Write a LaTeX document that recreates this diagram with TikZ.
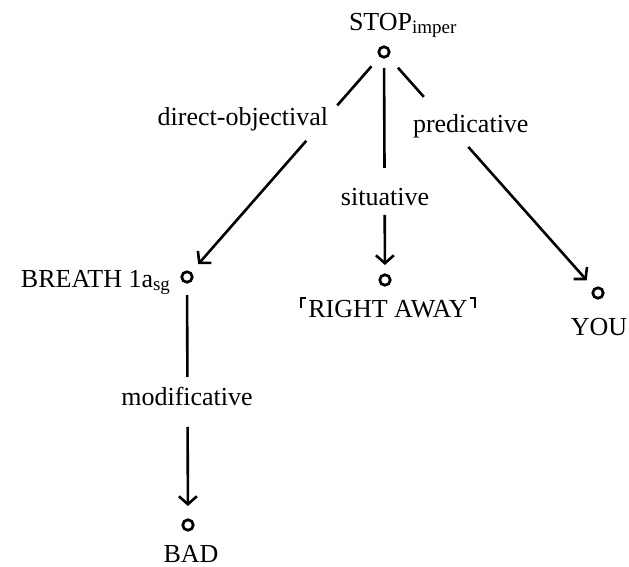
\documentclass[tikz,border=0pt]{standalone}
\usepackage{fontspec}
\setmainfont{Liberation Serif}
\usetikzlibrary{arrows.meta,calc}

\tikzset{
  every node/.style={inner sep=0pt, outer sep=0pt, font=\fontsize{26}{31}\selectfont},
  dot/.style={circle, draw, line width=2.7pt, minimum size=10.5pt},
  edge/.style={line width=2.6pt},
  arr/.style={edge, -{Straight Barb[length=8pt,width=18pt]}},
  corner/.style={line width=1.9pt}
}
\newcommand{\sub}[1]{\raisebox{-3pt}{\fontsize{19}{19}\selectfont #1}}

\begin{document}
\begin{tikzpicture}[x=1pt,y=-1pt]
\useasboundingbox (0,0) rectangle (629,567);

% word nodes
\node[anchor=base west] (stop) at (349,31) {STOP\sub{imper}};
\node[anchor=base east] (breath) at (170,287) {BREATH 1a\sub{sg}};
\node[anchor=base] (ra) at (388,317) {RIGHT AWAY};
\node[anchor=base] (you) at (599,335) {YOU};
\node[anchor=base] (bad) at (191,562) {BAD};

% relation labels
\node[anchor=base east] (ldo) at (328,126) {direct-objectival};
\node[anchor=base] (lsi) at (385,205) {situative};
\node[anchor=base west] (lpr) at (413,133) {predicative};
\node[anchor=base] (lmo) at (187,405) {modificative};

% vertices
\node[dot] (c0) at (384,52) {};
\node[dot] (c1) at (187,277) {};
\node[dot] (c2) at (385,280) {};
\node[dot] (c3) at (598,293) {};
\node[dot] (c4) at (188,525) {};

% break points where the labels interrupt the edges
\coordinate (do1) at ($(c0.center)!71pt!(c1.center)$);
\coordinate (do2) at ($(c0.center)!118pt!(c1.center)$);
\coordinate (si1) at ($(c0.center)!116pt!(c2.center)$);
\coordinate (si2) at ($(c0.center)!163pt!(c2.center)$);
\coordinate (pr1) at ($(c0.center)!60pt!(c3.center)$);
\coordinate (pr2) at ($(c0.center)!127pt!(c3.center)$);
\coordinate (mo1) at ($(c1.center)!100pt!(c4.center)$);
\coordinate (mo2) at ($(c1.center)!150pt!(c4.center)$);

% edges
\draw[edge, shorten <=19pt] (c0.center) -- (do1);
\draw[arr, shorten >=17pt] (do2) -- (c1.center);
\draw[edge, shorten <=16pt] (c0.center) -- (si1);
\draw[arr, shorten >=15pt] (si2) -- (c2.center);
\draw[edge, shorten <=21pt] (c0.center) -- (pr1);
\draw[arr, shorten >=17pt] (pr2) -- (c3.center);
\draw[edge, shorten <=18pt] (c1.center) -- (mo1);
\draw[arr, shorten >=19pt] (mo2) -- (c4.center);

% quotation corners round RIGHT AWAY
\draw[corner] ([xshift=-7pt,yshift=-8pt]ra.north west) -- ([xshift=-7pt,yshift=2pt]ra.north west) -- ([xshift=-2pt,yshift=2pt]ra.north west);
\draw[corner] ([xshift=7pt,yshift=-8pt]ra.north east) -- ([xshift=7pt,yshift=2pt]ra.north east) -- ([xshift=2pt,yshift=2pt]ra.north east);
\end{tikzpicture}
\end{document}
